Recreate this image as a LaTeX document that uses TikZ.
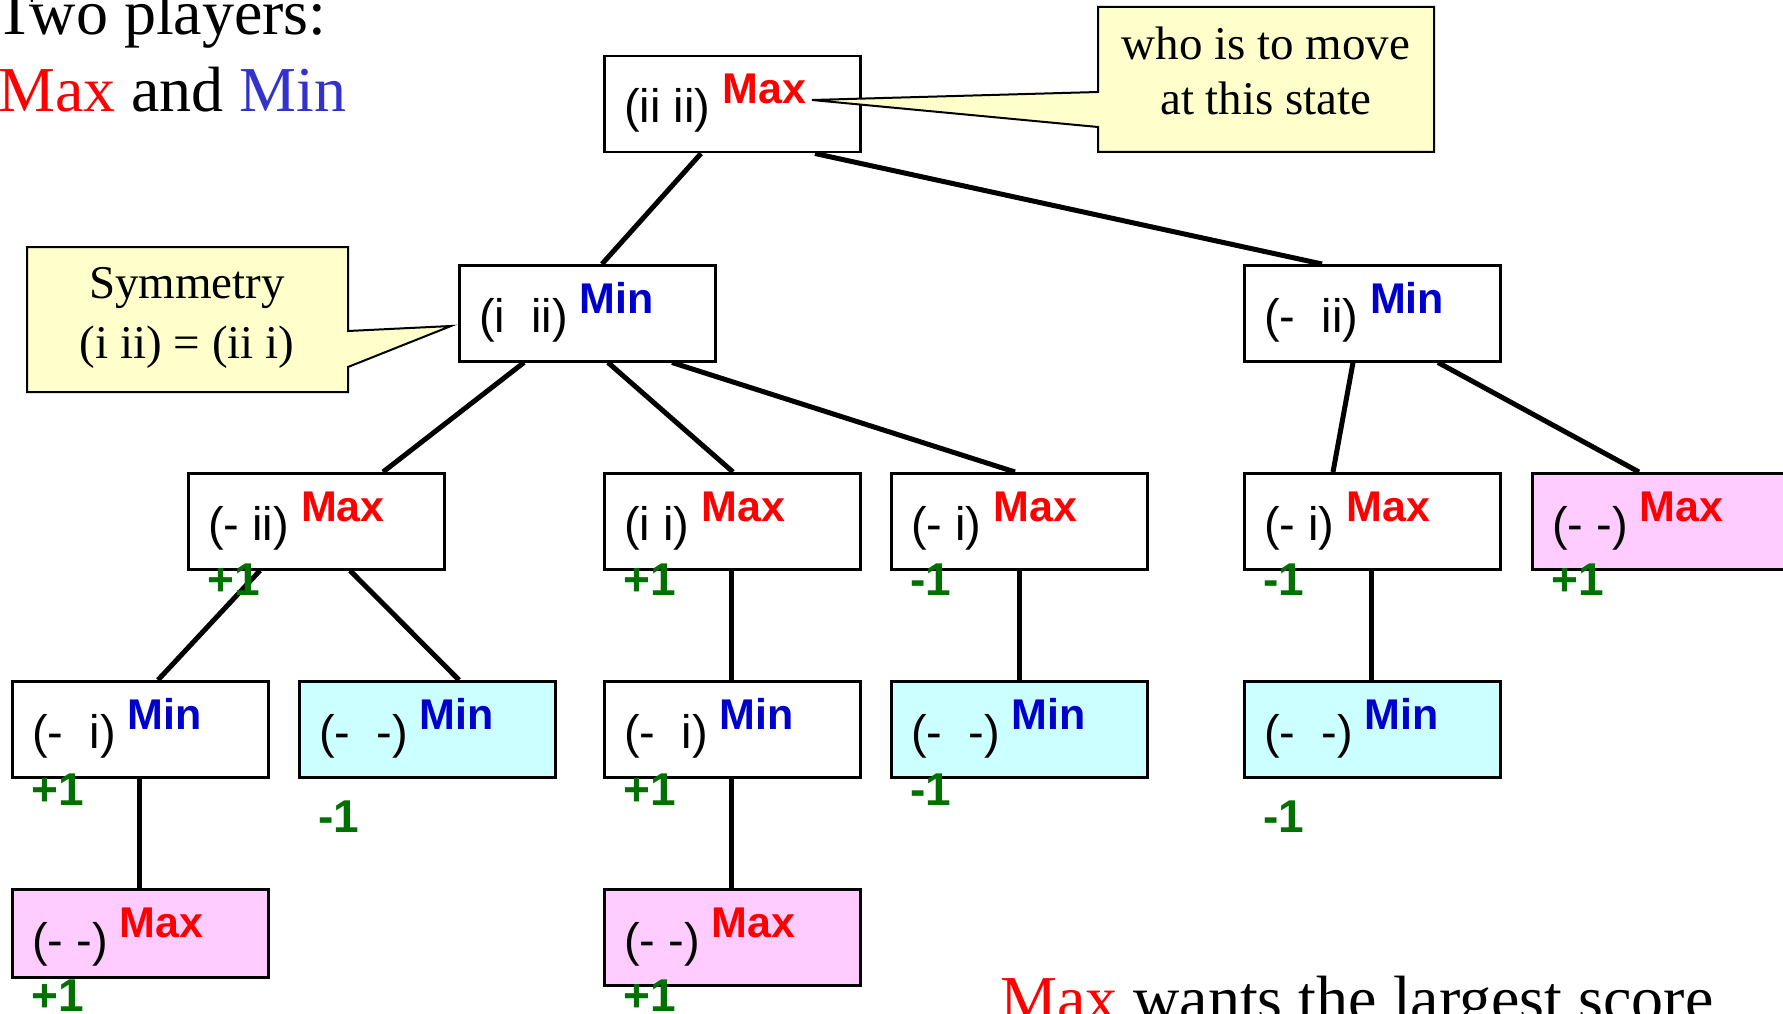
\documentclass[tikz,border=0pt]{standalone}
\usepackage{fontspec}
\setmainfont{Liberation Serif}
\newfontfamily\arialfam{Liberation Sans}
\usetikzlibrary{calc}

\definecolor{maxred}{RGB}{255,0,0}
\definecolor{minblue}{RGB}{0,0,204}
\definecolor{headblue}{RGB}{51,51,204}
\definecolor{valgreen}{RGB}{0,112,0}
\definecolor{notefill}{RGB}{255,255,204}
\definecolor{leafpink}{RGB}{255,204,255}
\definecolor{leafcyan}{RGB}{204,255,255}

% fonts
\newcommand\stfont{\arialfam\fontsize{47}{56}\selectfont}
\newcommand\plfont{\arialfam\bfseries\fontsize{43}{50}\selectfont}
\newcommand\valfont{\arialfam\bfseries\fontsize{46}{52}\selectfont}
\newcommand\headfont{\fontsize{64}{80}\selectfont}

% whose turn it is
\newcommand\maxlab{{\plfont\color{maxred}Max}}
\newcommand\minlab{{\plfont\color{minblue}Min}}

% a game state: name, north-west corner, fill, position text, player, height
\newcommand\gamestate[6]{%
  \node[gamebox, fill=#3, minimum height=#6pt] (#1) at #2 {};
  \node[boxtext] (#1t) at ([xshift=21pt,yshift=-68pt]#1.north west)
    {\stfont #4\hspace{12pt}\raisebox{19pt}{#5}};}

\begin{document}
\begin{tikzpicture}[x=1pt,y=-1pt,
  gamebox/.style={draw, line width=2.5pt, minimum width=256pt,
    minimum height=96pt, inner sep=0pt, anchor=north west, fill=white},
  boxtext/.style={anchor=base west, inner sep=0pt},
  edge/.style={line width=5pt},
  valtext/.style={anchor=base west, inner sep=0pt, text=valgreen, font=\valfont},
  note/.style={fill=notefill, draw, line width=2pt, line join=miter},
  notetext/.style={align=center, inner sep=0pt},
  headtext/.style={anchor=base west, inner sep=0pt, font=\headfont},
]
\fill[white] (0,0) rectangle (1783,1014);
\useasboundingbox (0,0) rectangle (1783,1014);

% headings
\node[headtext] (title) at (-5,35) {Two players:};
\node[headtext] (players) at (-2,112)
  {\textcolor{maxred}{Max} and \textcolor{headblue}{Min}};
\node[headtext] (goal) at (1000,1020) {\textcolor{maxred}{Max} wants the largest score};

% game tree states
\gamestate{r}{(603,55)}{white}{(ii ii)}{\maxlab}{96}
\gamestate{a}{(458,264)}{white}{(i\ \ ii)}{\minlab}{96}
\gamestate{b}{(1243,264)}{white}{(-\ \ ii)}{\minlab}{96}
\gamestate{c}{(187,472)}{white}{(- ii)}{\maxlab}{96}
\gamestate{d}{(603,472)}{white}{(i i)}{\maxlab}{96}
\gamestate{e}{(890,472)}{white}{(- i)}{\maxlab}{96}
\gamestate{f}{(1243,472)}{white}{(- i)}{\maxlab}{96}
\node[gamebox, fill=leafpink, minimum width=300pt] (g) at (1531,472) {};
\node[boxtext] (gt) at ([xshift=21pt,yshift=-68pt]g.north west)
  {\stfont (- -)\hspace{12pt}\raisebox{19pt}{\maxlab}};
\gamestate{h}{(11,680)}{white}{(-\ \ i)}{\minlab}{96}
\gamestate{i}{(298,680)}{leafcyan}{(-\ \ -)}{\minlab}{96}
\gamestate{j}{(603,680)}{white}{(-\ \ i)}{\minlab}{96}
\gamestate{k}{(890,680)}{leafcyan}{(-\ \ -)}{\minlab}{96}
\gamestate{l}{(1243,680)}{leafcyan}{(-\ \ -)}{\minlab}{96}
\gamestate{m}{(11,888)}{leafpink}{(- -)}{\maxlab}{88}
\gamestate{n}{(603,888)}{leafpink}{(- -)}{\maxlab}{96}

% moves
\draw[edge] ([xshift=98pt]r.south west) -- ([xshift=144pt]a.north west);
\draw[edge] ([xshift=212pt]r.south west) -- ([xshift=79pt]b.north west);
\draw[edge] ([xshift=66pt]a.south west) -- ([xshift=196pt]c.north west);
\draw[edge] ([xshift=150pt]a.south west) -- ([xshift=130pt]d.north west);
\draw[edge] ([xshift=214pt]a.south west) -- ([xshift=125pt]e.north west);
\draw[edge] ([xshift=110pt]b.south west) -- ([xshift=90pt]f.north west);
\draw[edge] ([xshift=195pt]b.south west) -- ([xshift=108pt]g.north west);
\draw[edge] ([xshift=73pt]c.south west) -- ([xshift=147pt]h.north west);
\draw[edge] ([xshift=163pt]c.south west) -- ([xshift=161pt]i.north west);
\draw[edge] ([xshift=128pt]d.south west) -- ([xshift=128pt]j.north west);
\draw[edge] ([xshift=129pt]e.south west) -- ([xshift=129pt]k.north west);
\draw[edge] ([xshift=128pt]f.south west) -- ([xshift=128pt]l.north west);
\draw[edge] ([xshift=128pt]h.south west) -- ([xshift=128pt]m.north west);
\draw[edge] ([xshift=128pt]j.south west) -- ([xshift=128pt]n.north west);

% minimax values
\node[valtext] (cv) at ([xshift=20pt,yshift=-25pt]c.south west) {+1};
\node[valtext] (dv) at ([xshift=20pt,yshift=-25pt]d.south west) {+1};
\node[valtext] (ev) at ([xshift=20pt,yshift=-25pt]e.south west) {-1};
\node[valtext] (fv) at ([xshift=20pt,yshift=-25pt]f.south west) {-1};
\node[valtext] (gv) at ([xshift=20pt,yshift=-25pt]g.south west) {+1};
\node[valtext] (hv) at ([xshift=20pt,yshift=-27pt]h.south west) {+1};
\node[valtext] (iv) at ([xshift=20pt,yshift=-54pt]i.south west) {-1};
\node[valtext] (jv) at ([xshift=20pt,yshift=-27pt]j.south west) {+1};
\node[valtext] (kv) at ([xshift=20pt,yshift=-27pt]k.south west) {-1};
\node[valtext] (lv) at ([xshift=20pt,yshift=-54pt]l.south west) {-1};
\node[valtext] (mv) at ([xshift=20pt,yshift=-33pt]m.south west) {+1};
\node[valtext] (nv) at ([xshift=20pt,yshift=-25pt]n.south west) {+1};

% callouts
\coordinate (whotip) at (812,100);
\draw[note] (1098,7) -- (1434,7) -- (1434,152) -- (1098,152) -- (1098,127)
  -- (whotip) -- (1098,92) -- cycle;
\node[notetext, font=\fontsize{47}{55}\selectfont] (who) at (1266,71)
  {who is to move\\at this state};

\coordinate (symtip) at (451,326);
\draw[note] (27,247) -- (348,247) -- (348,331) -- (symtip) -- (348,367)
  -- (348,392) -- (27,392) -- cycle;
\node[notetext, font=\fontsize{47}{60}\selectfont] (sym) at (187,318)
  {Symmetry\\(i ii) = (ii i)};
\end{tikzpicture}
\end{document}
